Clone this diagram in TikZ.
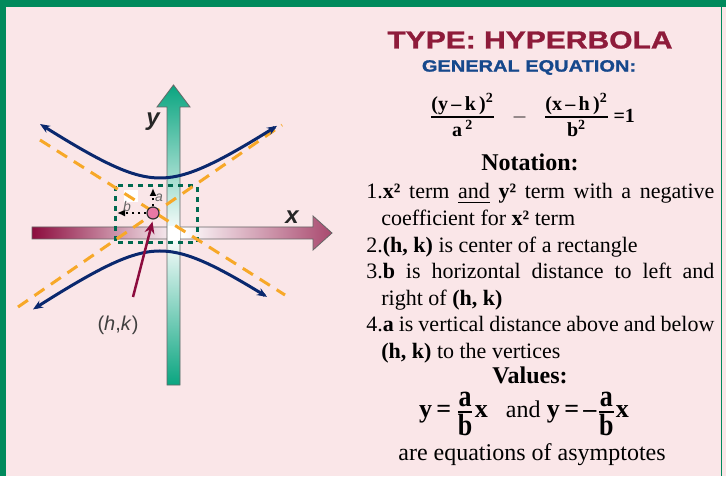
\documentclass[tikz,border=0pt]{standalone}
\usepackage{amsmath}
\usepackage{graphicx}
\usepackage{fontspec}
\setmainfont{Liberation Serif}
\setsansfont{Liberation Sans}
\newfontfamily\titlefont[FakeStretch=1.22, BoldFeatures={FakeBold=1.3}]{Liberation Sans}
\usetikzlibrary{arrows.meta}

\definecolor{framegreen}{RGB}{0,138,92}
\definecolor{bgpink}{RGB}{250,230,232}
\definecolor{axisred}{RGB}{140,12,62}
\definecolor{axisteal}{RGB}{10,165,128}
\definecolor{curveblue}{RGB}{10,40,110}
\definecolor{asymorange}{RGB}{247,168,40}
\definecolor{boxgreen}{RGB}{0,105,80}
\definecolor{titlered}{RGB}{142,27,58}
\definecolor{titleblue}{RGB}{22,72,140}
\definecolor{centerpink}{RGB}{232,120,165}

\newcommand\noteitem{\par\hangindent=7.5pt\hangafter=1\noindent}
\newcommand\fracletter[2]{\raisebox{#2}{\scalebox{1}[1.18]{\textbf{#1}}}}

\begin{document}
\begin{tikzpicture}[x=0.5pt, y=-0.5pt,
    asym/.style={asymorange, line width=1.5pt, dash pattern=on 6pt off 4pt},
    branch/.style={curveblue, line width=1.5pt, {Stealth[length=5pt,width=4pt]}-{Stealth[length=5pt,width=4pt]}},
    axislabel/.style={font=\sffamily\bfseries\itshape\fontsize{12}{14}\selectfont, text=black!85},
    notetext/.style={font=\fontsize{11}{13.3}\selectfont, inner sep=0pt}]
  % background and frame
  \fill[bgpink] (0,0) rectangle (726,476);
  \fill[framegreen] (0,0) rectangle (726,7);
  \fill[framegreen] (0,0) rectangle (6,476);
  \draw[framegreen, line width=0.75pt] (721.5,7) -- (721.5,476);
  \useasboundingbox (0,0) rectangle (726,476);

  % axes
  \shade[left color=axisred, right color=axisred!75, middle color=white, draw=black!60, line width=0.4pt]
    (32,227) -- (313,227) -- (313,216) -- (332,233) -- (313,250) -- (313,239) -- (32,239) -- cycle;
  \shade[top color=axisteal, bottom color=axisteal, middle color=white, draw=black!60, line width=0.4pt]
    (167,385) -- (167,107) -- (157,107) -- (173.5,85) -- (190,107) -- (180,107) -- (180,385) -- cycle;
  \fill[white] (167.5,226) rectangle (179.5,240);
  \fill[white] (124,190) rectangle (138,202);
  \node[axislabel] (xlab) at (292,217) {x};
  \node[axislabel] (ylab) at (153,122) {y};

  % rectangle and asymptotes
  \draw[boxgreen, line width=1.5pt, dash pattern=on 2.5pt off 2.5pt] (115,186) rectangle (197,243);
  \draw[asym] (40,140) -- (285,295);
  \draw[asym] (18,307) -- (282,125);

  % branches
  \draw[branch] plot[domain=40:277, samples=60, smooth] ({\x}, {214.5 - sqrt(1332 + ((\x-160)*0.69)^2)});
  \draw[branch] plot[domain=33:267, samples=60, smooth] ({\x}, {214.5 + sqrt(1332 + ((\x-160)*0.69)^2)});

  % center, a and b
  \node[circle, draw=black!80, fill=centerpink, line width=0.6pt, minimum size=6pt, inner sep=0pt] (hk) at (153,213) {};
  \coordinate (atop) at (153,188);
  \coordinate (bleft) at (117,213);
  \draw[dotted, line width=1pt, -{Latex[length=4pt,width=3.5pt]}] (hk) -- (atop);
  \draw[dotted, line width=1pt, -{Latex[length=4pt,width=3.5pt]}] (hk) -- (bleft);
  \node[font=\sffamily\itshape\fontsize{7}{8}\selectfont, text=black!60, inner sep=0pt] (alab) at (159,198) {a};
  \node[font=\sffamily\itshape\fontsize{7}{8}\selectfont, text=black!60, inner sep=0pt] (blab) at (127,206) {b};

  % pointer to (h,k)
  \node[font=\sffamily\fontsize{10}{12}\selectfont, text=black!75] (hklab) at (118,325) {(\textit{h},\textit{k})};
  \coordinate (ptr) at (133,297);
  \draw[axisred, line width=1.25pt, -{Stealth[length=6pt,width=5pt]}, shorten >=1pt] (ptr) -- (hk.south);

  % title and equation
  \node[text=titlered, font=\titlefont\bfseries\fontsize{12.3}{14}\selectfont] (title) at (530,40) {TYPE: HYPERBOLA};
  \node[text=titleblue, font=\titlefont\bfseries\fontsize{8.2}{10}\selectfont] (subtitle) at (529,67.5) {GENERAL EQUATION:};
  \node[font=\fontsize{10}{12}\selectfont] (equation) at (532,115)
    {$\genfrac{}{}{0.9pt}{}{\mbox{\textbf{(y\,–\,k\,)\textsuperscript{2}}}}{\mbox{\textbf{a\,\textsuperscript{2}}}}
      \;\; - \;\;
      \genfrac{}{}{0.9pt}{}{\mbox{\textbf{(x\,–\,h\,)\textsuperscript{2}}}}{\mbox{\textbf{b\textsuperscript{2}}}}
      \,\mbox{\textbf{=1}}$};

  % notation
  \node[font=\bfseries\fontsize{12}{14}\selectfont] (notation) at (530,162) {Notation:};
  \node[notetext, text width=174pt, align=justify, anchor=north west] (items) at (366,172) {%
    \noteitem 1.\textbf{x²} term \underline{and} \textbf{y²} term with a negative\linebreak coefficient for \textbf{x²} term
    \noteitem 2.\textbf{(h, k)} is center of a rectangle
    \noteitem 3.\textbf{b} is horizontal distance to left and\linebreak right of \textbf{(h, k)}
    \noteitem 4.\textbf{a} is vertical distance above and below\linebreak \textbf{(h, k)} to the vertices\par};

  % values
  \node[font=\bfseries\fontsize{12}{14}\selectfont] (values) at (530,375) {Values:};
  \node[font=\fontsize{13}{15}\selectfont] (asymeq) at (524,414)
    {\textbf{y\,=\,}$\genfrac{}{}{0.9pt}{}{\mbox{\fracletter{a}{1pt}}}{\mbox{\fracletter{b}{-0.5pt}}}$\textbf{x}\hspace{9pt}%
     {\fontsize{12}{14}\selectfont and}\ \textbf{y\,=\,–}$\genfrac{}{}{0.9pt}{}{\mbox{\fracletter{a}{1pt}}}{\mbox{\fracletter{b}{-0.5pt}}}$\textbf{x}};
  \node[font=\fontsize{12}{14}\selectfont] (asymnote) at (532,455) {are equations of asymptotes};
\end{tikzpicture}
\end{document}
